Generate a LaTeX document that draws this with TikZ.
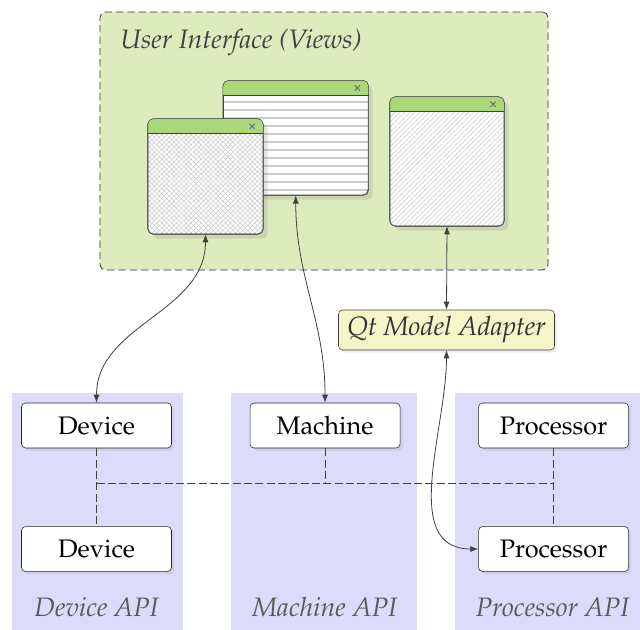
\documentclass[tikz,border=0pt]{standalone}
\usepackage[T1]{fontenc}
\usepackage{mathpazo}
\usepackage{tikz}
\usetikzlibrary{positioning,shadows,patterns.meta,arrows.meta}

\definecolor{uigreen}{HTML}{DDEBBD}
\definecolor{bargreen}{HTML}{A9D878}
\definecolor{apiblue}{HTML}{DCDCFA}
\definecolor{adaptyellow}{HTML}{F4F5C8}

\tikzstyle{uibox} = [draw=black!80, line width=0.6pt, fill=uigreen, rounded corners=4pt, dash pattern=on 5.5pt off 3pt]
\tikzstyle{uititle} = [inner sep=0pt, text=black!75, font=\fontsize{20}{24}\selectfont\itshape]
\tikzstyle{window} = [draw=black!75, rounded corners=4pt, drop shadow={shadow xshift=3.5pt, shadow yshift=-3.5pt, opacity=0.2}, preaction={fill=white}, pattern color=black!20]
\tikzstyle{winlines} = [pattern={Lines[angle=0, distance=6pt, line width=0.8pt]}]
\tikzstyle{winhatch} = [pattern={Hatch[angle=45, distance=2.6pt, line width=0.4pt]}]
\tikzstyle{windiag} = [pattern={Lines[angle=45, distance=2.6pt, line width=0.4pt]}]
\tikzstyle{closemark} = [draw=black!55, line width=0.8pt]
\tikzstyle{apibox} = [draw=black!85, fill=white, rounded corners=3pt, minimum width=112.5pt, minimum height=33.75pt, font=\fontsize{19}{22}\selectfont, drop shadow={shadow xshift=2pt, shadow yshift=-2pt, opacity=0.15}]
\tikzstyle{apilabel} = [text=black!65, font=\fontsize{20}{24}\selectfont\itshape]
\tikzstyle{adapter} = [draw=black!75, fill=adaptyellow, rounded corners=3pt, minimum width=162pt, minimum height=30pt, inner xsep=4pt, font=\fontsize{20}{24}\selectfont\itshape, text=black!80, drop shadow={shadow xshift=2pt, shadow yshift=-2pt, opacity=0.15}]
\tikzstyle{link} = [<->, >={Latex[length=6pt, width=4.5pt]}, draw=black!75, line width=0.6pt]
\tikzstyle{bus} = [draw=black!75, line width=0.6pt, dash pattern=on 6pt off 2.5pt]

\begin{document}
\begin{tikzpicture}[x=0.75pt, y=-0.75pt, node distance=58.5pt]
    \useasboundingbox (0,0) rectangle (640,630);

    % API columns in the background
    \fill[apiblue] (12,393) rectangle (183,630);
    \fill[apiblue] (231,393) rectangle (417,630);
    \fill[apiblue] (455,393) rectangle (640,630);

    % user interface area
    \node[uibox, minimum width=336pt, minimum height=193.5pt] (ui) at (324,141) {};
    \node[uititle, anchor=west] (uititle) at (120,43) {User Interface (Views)};

    % the three views, back to front
    \foreach \w/\cx/\cy/\winw/\winh/\sty in {listview/295.75/138/108.4pt/85.5pt/winlines,
                                             gridview/205.5/176.5/86.25pt/86.25pt/winhatch,
                                             diagview/447/161.5/85.5pt/96.75pt/windiag} {
        \node[window, \sty, minimum width=\winw, minimum height=\winh] (\w) at (\cx,\cy) {};
        \begin{scope}
            \clip (\w.north west) rectangle ([yshift=-11.25pt]\w.north east);
            \fill[bargreen, rounded corners=4pt] (\w.north west) rectangle (\w.south east);
        \end{scope}
        \draw[black!75] ([yshift=-11.25pt]\w.north west) -- ([yshift=-11.25pt]\w.north east);
        \draw[black!75, rounded corners=4pt] (\w.north west) rectangle (\w.south east);
        \draw[closemark] ([shift={(-10.3pt,-3.7pt)}]\w.north east) -- ++(3.8pt,-3.8pt)
                         ([shift={(-6.5pt,-3.7pt)}]\w.north east) -- ++(-3.8pt,-3.8pt);
    }

    \node[adapter] (adapter) at (446.5,330) {Qt Model Adapter};

    % API objects
    \node[apibox] (dev1) at (96.5,425.5) {Device};
    \node[apibox] (mach) [right=of dev1] {Machine};
    \node[apibox] (proc1) [right=of mach] {Processor};
    \node[apibox] (dev2) [below=of dev1] {Device};
    \node[apibox] (proc2) [below=of proc1] {Processor};

    \node[apilabel] (devapi) at (96.5,607) {Device API};
    \node[apilabel] (machapi) at (324.5,607) {Machine API};
    \node[apilabel] (procapi) at (552.5,607) {Processor API};

    % dashed relations between the objects
    \coordinate (bus) at (0,483);
    \draw[bus] (dev1) -- (dev2);
    \draw[bus] (proc1) -- (proc2);
    \draw[bus] (dev1 |- bus) -- (proc1 |- bus);
    \draw[bus] (mach) -- (mach |- bus);

    % views talking to the APIs
    \draw[link] (gridview.south) to[out=-90, in=90] (dev1.north);
    \draw[link] (listview.south) to[out=-90, in=90] (mach.north);
    \draw[link] (diagview.south) -- (adapter.north);
    \draw[link] (adapter.south) to[out=-90, in=180] (proc2.west);

\end{tikzpicture}
\end{document}
